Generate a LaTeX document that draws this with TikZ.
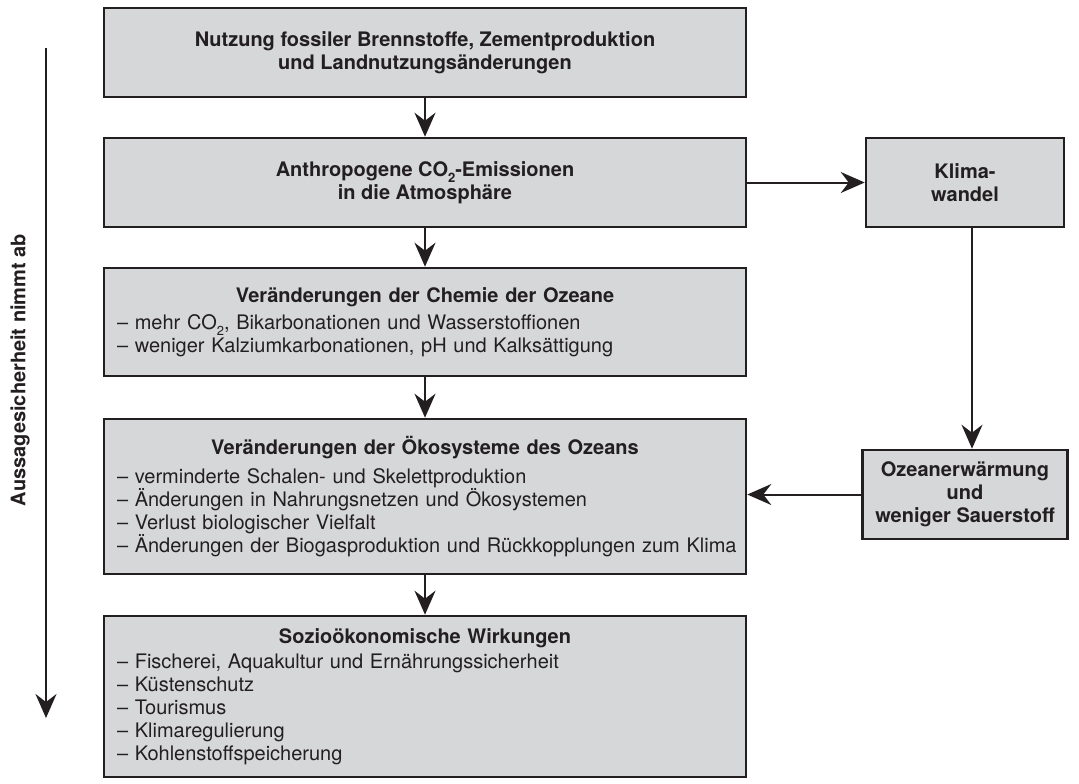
\documentclass[tikz,border=0pt]{standalone}
\usepackage{fontspec}
\setmainfont{TeX Gyre Heros}
\usetikzlibrary{arrows.meta}
\definecolor{boxgray}{RGB}{214,215,217}
\definecolor{ink}{RGB}{35,31,32}
\newcommand{\COzwei}{CO\raisebox{-.6ex}{\fontsize{6.5}{7}\selectfont 2}}
\tikzset{>={Stealth[length=12pt,width=10.5pt,inset=4pt]},
 every node/.style={font=\fontsize{10}{11.5}\selectfont,text=ink},
 box/.style={draw=ink,fill=boxgray,line width=1.3pt,minimum width=321pt,inner xsep=6.5pt,inner ysep=0pt},
 headbox/.style={box,align=center,minimum height=44.5pt,font=\fontsize{10}{11.5}\selectfont\bfseries},
 listbox/.style={box,text width=308pt,align=left},
 sidebox/.style={headbox,minimum width=99pt},
 flow/.style={draw=ink,line width=1pt,->}}

\begin{document}
\begin{tikzpicture}[x=0.5pt,y=-0.5pt]
\useasboundingbox (0,0) rectangle (1079,783);
% Kette der Ursachen und Wirkungen, von oben nach unten.
\node[headbox] (fossil) at (425,52.5){Nutzung fossiler Brennstoffe, Zementproduktion\\und Landnutzungsänderungen};
\node[headbox] (emiss) at (425,182.5){Anthropogene \COzwei-Emissionen\\in die Atmosphäre};
\node[listbox,minimum height=54pt] (chemie) at (425,322){\makebox[\linewidth]{\bfseries Veränderungen der Chemie der Ozeane}\\[2pt]
 – mehr \COzwei, Bikarbonationen und Wasserstoffionen\\
 – weniger Kalziumkarbonationen, pH und Kalksättigung};
\node[listbox,minimum height=77.5pt] (oeko) at (425,496.5){\makebox[\linewidth]{\bfseries Veränderungen der Ökosysteme des Ozeans}\\[3pt]
 – verminderte Schalen- und Skelettproduktion\\
 – Änderungen in Nahrungsnetzen und Ökosystemen\\
 – Verlust biologischer Vielfalt\\
 \mbox{– Änderungen der Biogasproduktion und Rückkopplungen zum Klima}};
\node[listbox,minimum height=80.5pt] (sozio) at (425,696.5){\makebox[\linewidth]{\bfseries Sozioökonomische Wirkungen}\\[1pt]
 – Fischerei, Aquakultur und Ernährungssicherheit\\
 – Küstenschutz\\
 – Tourismus\\
 – Klimaregulierung\\
 – Kohlenstoffspeicherung};
% Seitenzweig ueber das Klima.
\node[sidebox] (klima) at (965,182.5){Klima-\\wandel};
\node[sidebox] (warm) at (965,494.5){Ozeanerwärmung\\und\\weniger Sauerstoff};
\draw[flow] (fossil)--(emiss);
\draw[flow] (emiss)--(chemie);
\draw[flow] (chemie)--(oeko);
\draw[flow] (oeko)--(sozio);
\draw[flow] (emiss)--(klima);
\draw[flow] ([xshift=3.5pt]klima.south)--([xshift=3.5pt]warm.north);
\draw[flow] (warm.west)--(oeko.east |- warm.west);
% Pfeil der abnehmenden Aussagesicherheit.
\coordinate (sicher-a) at (46,48);
\coordinate (sicher-b) at (46,718);
\draw[flow] (sicher-a)--(sicher-b);
\node[rotate=90,font=\fontsize{10}{11.5}\selectfont\bfseries] (sicher) at (20,370){Aussagesicherheit nimmt ab};
\end{tikzpicture}
\end{document}
